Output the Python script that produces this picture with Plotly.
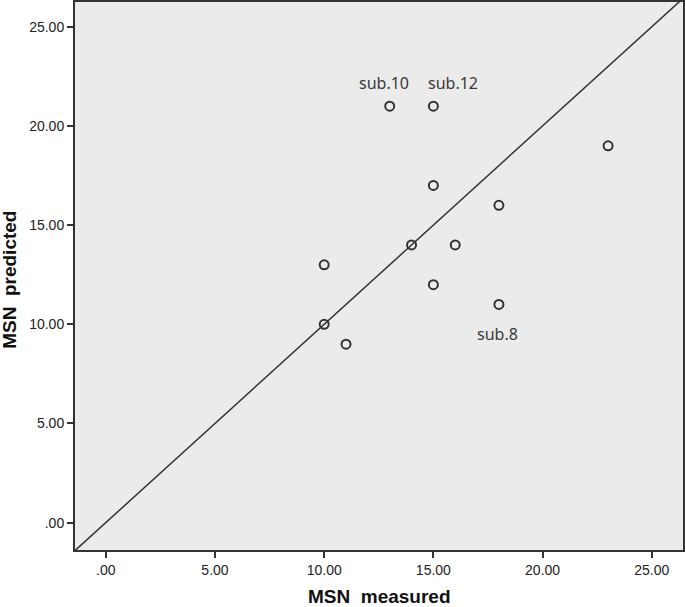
import plotly.graph_objects as go

measured = [10, 10, 11, 13, 14, 15, 15, 15, 16, 18, 18, 23]
predicted = [13, 10, 9, 21, 14, 21, 17, 12, 14, 16, 11, 19]
labels = ["", "", "", "sub.10", "", "sub.12", "", "", "", "", "sub.8", ""]
label_offsets = {"sub.10": (-6, -23), "sub.12": (20, -23), "sub.8": (-1, 30)}
tick_vals = [0, 5, 10, 15, 20, 25]
tick_text = [".00", "5.00", "10.00", "15.00", "20.00", "25.00"]
line_ends = [-2, 28]

fig = go.Figure()
fig.add_trace(go.Scatter(x=line_ends, y=line_ends, mode="lines",
                         line=dict(color="#333333", width=1.5), hoverinfo="skip"))
fig.add_trace(go.Scatter(x=measured, y=predicted, mode="markers",
                         marker=dict(symbol="circle-open", size=9, color="#333333",
                                     line=dict(width=2, color="#333333"))))

for xm, yp, lab in zip(measured, predicted, labels):
    if lab:
        dx, dy = label_offsets[lab]
        fig.add_annotation(x=xm, y=yp, text=lab, showarrow=False, xshift=dx, yshift=-dy,
                           font=dict(family="Noto Sans, Open Sans, sans-serif", size=16, color="#3a3a3a"))

title_font = dict(family="Liberation Sans, Arial", size=19, color="#111111", weight="bold")
fig.add_annotation(xref="paper", yref="paper", x=0.5, y=0, yshift=-46, yanchor="middle",
                   text="MSN  measured", showarrow=False, font=title_font)
fig.add_annotation(xref="paper", yref="paper", x=0, y=0.493, xshift=-65, xanchor="center",
                   text="MSN  predicted", showarrow=False, textangle=-90, font=title_font)

axis_common = dict(showgrid=False, zeroline=False, ticks="outside", ticklen=6, tickwidth=2,
                   tickcolor="#333333", showline=True, linecolor="#333333", linewidth=2,
                   mirror=True, automargin=False,
                   tickfont=dict(family="Liberation Sans, Arial", size=14, color="#222222"),
                   tickvals=tick_vals, ticktext=tick_text)

fig.update_layout(
    width=685, height=607,
    margin=dict(l=75, r=2, t=2, b=57),
    paper_bgcolor="white", plot_bgcolor="#ebebeb",
    showlegend=False,
    xaxis=dict(range=[-1.41, 26.43], **axis_common),
    yaxis=dict(range=[-1.38, 26.25], **axis_common),
)

fig.write_html("out.html", config={"displayModeBar": False},
               post_script="document.body.style.margin='0';")
